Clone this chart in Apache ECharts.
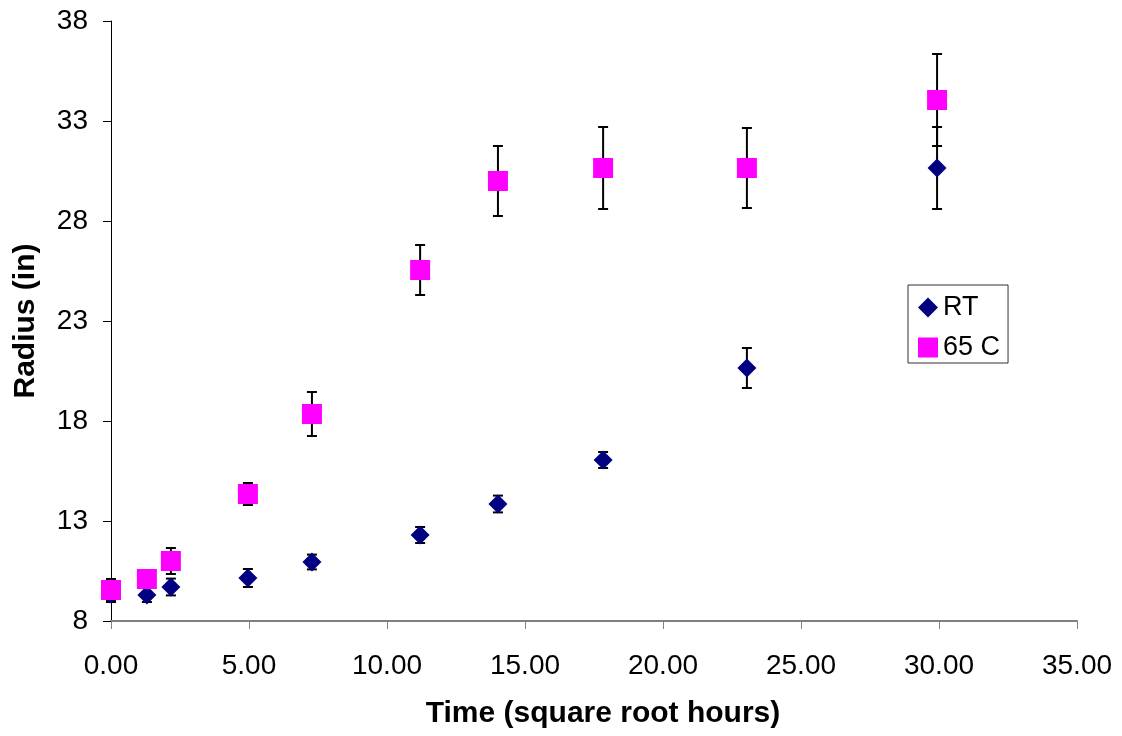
<!DOCTYPE html>
<html>
<head>
<meta charset="utf-8">
<script src="https://cdn.jsdelivr.net/npm/echarts@6/dist/echarts.min.js"></script>
<style>
html,body{margin:0;padding:0;background:#fff;}
#chart{width:1122px;height:736px;}
</style>
</head>
<body>
<div id="chart"></div>
<script>
const xValues = [0, 1.30, 2.17, 4.96, 7.28, 11.2, 14.02, 17.83, 23.04, 29.93];
const rtValues = [9.35, 9.3, 9.7, 10.15, 10.95, 12.3, 13.85, 16.05, 20.65, 30.65];
const rtErrors = [0.4, 0.35, 0.42, 0.45, 0.37, 0.4, 0.42, 0.4, 1.0, 2.05];
const c65Values = [9.55, 10.1, 11.0, 14.35, 18.35, 25.55, 30.0, 30.65, 30.65, 34.05];
const c65Errors = [0.55, 0.3, 0.65, 0.55, 1.1, 1.25, 1.75, 2.05, 2.0, 2.3];
const seriesNames = ['RT', '65 C'];
const xTicks = { min: 0, max: 35, interval: 5 };
const yTicks = { min: 8, max: 38, interval: 5 };

const FONT = "'Liberation Sans', Arial, sans-serif";

function pts(vals) { return xValues.map((x, i) => [x, vals[i]]); }
function errs(vals, e) { return xValues.map((x, i) => [x, vals[i] - e[i], vals[i] + e[i]]); }

function renderErr(params, api) {
  const x = api.value(0);
  const p1 = api.coord([x, api.value(2)]);
  const p2 = api.coord([x, api.value(1)]);
  const w = 5;
  const st = { stroke: '#000', lineWidth: 2 };
  return {
    type: 'group',
    children: [
      { type: 'line', shape: { x1: p1[0], y1: p1[1], x2: p2[0], y2: p2[1] }, style: st },
      { type: 'line', shape: { x1: p1[0] - w, y1: p1[1], x2: p1[0] + w, y2: p1[1] }, style: st },
      { type: 'line', shape: { x1: p2[0] - w, y1: p2[1], x2: p2[0] + w, y2: p2[1] }, style: st }
    ]
  };
}

const chart = echarts.init(document.getElementById('chart'), null, { renderer: 'canvas' });
chart.setOption({
  animation: false,
  backgroundColor: '#ffffff',
  textStyle: { fontFamily: FONT },
  grid: { left: 111, right: 45, top: 21, bottom: 115, containLabel: false },
  legend: {
    data: seriesNames,
    orient: 'vertical',
    left: 908,
    top: 285,
    padding: [9, 8, 2, 10],
    itemGap: 13,
    itemWidth: 20,
    itemHeight: 20,
    borderColor: '#333',
    borderWidth: 1,
    textStyle: { fontFamily: FONT, fontSize: 27, color: '#000' }
  },
  xAxis: {
    type: 'value',
    min: xTicks.min, max: xTicks.max, interval: xTicks.interval,
    name: 'Time (square root hours)',
    nameLocation: 'middle',
    nameGap: 78,
    nameTextStyle: { fontFamily: FONT, fontSize: 30, fontWeight: 'bold', color: '#000', padding: [0, 0, 0, 18] },
    axisLine: { show: true, onZero: false, lineStyle: { color: '#808080', width: 2 } },
    axisTick: { show: true, inside: false, length: 8, lineStyle: { color: '#808080', width: 1 } },
    axisLabel: { fontFamily: FONT, fontSize: 28, color: '#000', margin: 31, formatter: v => v.toFixed(2) },
    splitLine: { show: false }
  },
  yAxis: {
    type: 'value',
    min: yTicks.min, max: yTicks.max, interval: yTicks.interval,
    name: 'Radius (in)',
    nameLocation: 'middle',
    nameGap: 70,
    nameTextStyle: { fontFamily: FONT, fontSize: 30, fontWeight: 'bold', color: '#000' },
    axisLine: { show: true, onZero: false, lineStyle: { color: '#000', width: 1 } },
    axisTick: { show: true, inside: false, length: 8, lineStyle: { color: '#000', width: 1 } },
    axisLabel: { fontFamily: FONT, fontSize: 28, color: '#000', margin: 23 },
    splitLine: { show: false }
  },
  series: [
    {
      type: 'custom', name: 'RT err', renderItem: renderErr, data: errs(rtValues, rtErrors),
      encode: { x: 0, y: [1, 2] }, z: 1, silent: true
    },
    {
      type: 'custom', name: '65 C err', renderItem: renderErr, data: errs(c65Values, c65Errors),
      encode: { x: 0, y: [1, 2] }, z: 1, silent: true
    },
    {
      type: 'scatter', name: seriesNames[0], data: pts(rtValues),
      symbol: 'diamond', symbolSize: 19,
      itemStyle: { color: '#000080', opacity: 1 }, z: 3
    },
    {
      type: 'scatter', name: seriesNames[1], data: pts(c65Values),
      symbol: 'rect', symbolSize: 20,
      itemStyle: { color: '#FF00FF', opacity: 1 }, z: 4
    }
  ]
});
</script>
</body>
</html>
